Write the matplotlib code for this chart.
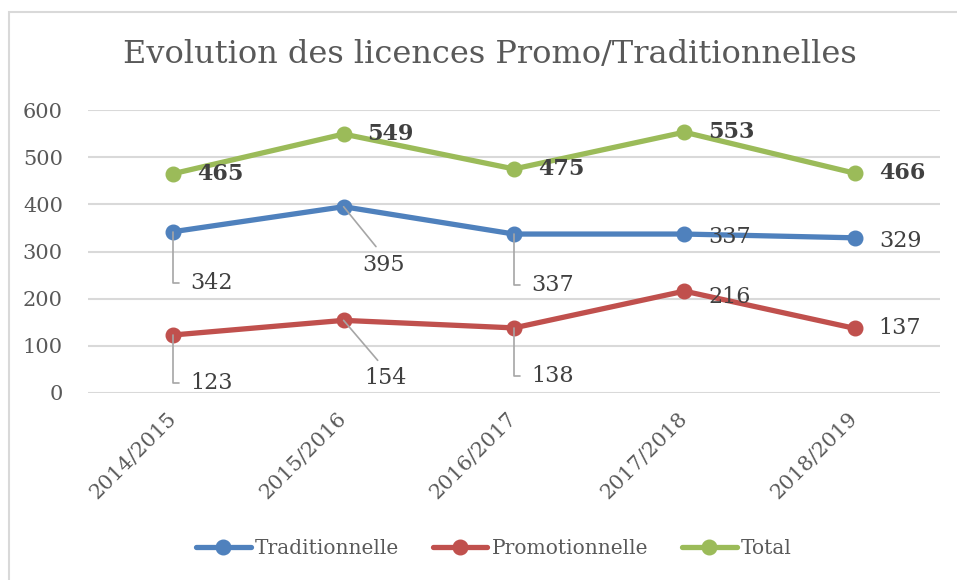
"""Evolution des licences Promo/Traditionnelles (line chart)."""

import matplotlib.pyplot as plt
from matplotlib.patches import Rectangle

seasons = ['2014/2015', '2015/2016', '2016/2017', '2017/2018', '2018/2019']
traditionnelle = [342, 395, 337, 337, 329]
promotionnelle = [123, 154, 138, 216, 137]
total = [465, 549, 475, 553, 466]
y_ticks = [0, 100, 200, 300, 400, 500, 600]

BLUE = '#4F81BD'
RED = '#C0504D'
GREEN = '#9BBB59'
GRID = '#D9D9D9'
TXT = '#595959'
LBL = '#404040'
FONT = 'DejaVu Serif'


def label(axes, x, y, text, dx, dy, bold=False, leader=None):
    """Data label offset by (dx, dy) pixels, with an optional leader line."""
    props = None
    if leader == 'elbow':
        props = dict(arrowstyle='-', color='#A6A6A6', lw=1.2,
                     connectionstyle='angle,angleA=0,angleB=90,rad=0',
                     relpos=(0, 0.5), shrinkA=6, shrinkB=0)
    elif leader == 'diag':
        props = dict(arrowstyle='-', color='#A6A6A6', lw=1.2,
                     relpos=(0.45, 1.0), shrinkA=4, shrinkB=0)
    axes.annotate(text, (x, y), xytext=(dx, dy), textcoords='offset pixels',
                  ha='left', va='center', fontsize=16, family=FONT,
                  color=LBL, fontweight='bold' if bold else 'normal',
                  arrowprops=props, zorder=5)


def main():
    fig = plt.figure(figsize=(9.57, 5.8), dpi=100)
    fig.patches.append(Rectangle((9 / 957, -0.1), 1.2, 1 - 12 / 580 + 0.1,
                                 transform=fig.transFigure, fill=False,
                                 edgecolor=GRID, lw=1.5))
    axes = fig.add_axes([88 / 957, 1 - 393 / 580, 852 / 957, 283 / 580])

    x = list(range(len(seasons)))
    style = dict(lw=3.8, marker='o', markersize=10.5, solid_capstyle='round')
    axes.plot(x, traditionnelle, color=BLUE, label='Traditionnelle', **style)
    axes.plot(x, promotionnelle, color=RED, label='Promotionnelle', **style)
    axes.plot(x, total, color=GREEN, label='Total', **style)

    axes.set_xlim(-0.5, len(seasons) - 0.5)
    axes.set_ylim(0, 600)
    axes.set_yticks(y_ticks)
    axes.set_xticks(x)
    axes.set_xticklabels(seasons, rotation=45, ha='right', va='center',
                         rotation_mode='anchor')
    axes.tick_params(axis='both', length=0, labelsize=15, labelcolor=TXT,
                     labelfontfamily=FONT)
    axes.tick_params(axis='x', pad=16)
    axes.tick_params(axis='y', pad=18)
    axes.grid(axis='y', color=GRID, lw=1.5)
    axes.set_axisbelow(True)
    for spine in axes.spines.values():
        spine.set_visible(False)

    # Data labels
    elbows = {0, 2}
    for i, val in enumerate(traditionnelle):
        if i in elbows:
            label(axes, i, val, str(val), 17, -51, leader='elbow')
        elif i == 1:
            label(axes, i, val, str(val), 19, -58, leader='diag')
        else:
            label(axes, i, val, str(val), 24, -3)
    for i, val in enumerate(promotionnelle):
        if i in elbows:
            label(axes, i, val, str(val), 17, -48, leader='elbow')
        elif i == 1:
            label(axes, i, val, str(val), 21, -58, leader='diag')
        else:
            label(axes, i, val, str(val), 24, -6 if i == 3 else 0)
    for i, val in enumerate(total):
        label(axes, i, val, str(val), 24, 0, bold=True)

    fig.text(490 / 957, 1 - 55 / 580, 'Evolution des licences Promo/Traditionnelles',
             ha='center', va='center', fontsize=23, family=FONT, color=TXT)

    fig.legend(loc='center', bbox_to_anchor=(0.516, 1 - 549 / 580), ncol=3,
               frameon=False, prop=dict(family=FONT, size=14.5),
               labelcolor=TXT, handlelength=2.7, handletextpad=0.2,
               columnspacing=1.7, markerscale=1.0)

    plt.savefig('out.png', dpi=100)
    plt.close()


if __name__ == '__main__':
    main()
